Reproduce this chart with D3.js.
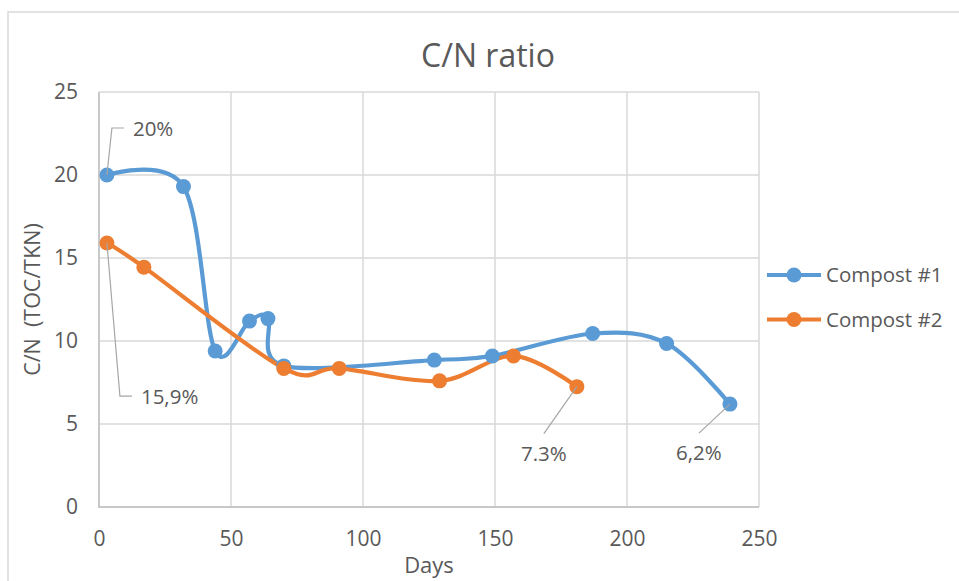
<!DOCTYPE html>
<html>
<head>
<meta charset="utf-8">
<script src="https://cdn.jsdelivr.net/npm/d3@7"></script>
<style>
  body { margin: 0; background: #fff; }
  svg { display: block; font-family: "Open Sans", "Noto Sans", sans-serif; }
  text { fill: #595959; }
</style>
</head>
<body>
<svg width="959" height="581"></svg>
<script>
// data
var days1 = [3, 32, 44, 57, 64, 70, 127, 149, 187, 215, 239];
var cn1   = [20, 19.3, 9.4, 11.2, 11.35, 8.5, 8.85, 9.1, 10.45, 9.85, 6.2];
var days2 = [3, 17, 70, 91, 129, 157, 181];
var cn2   = [15.9, 14.45, 8.35, 8.35, 7.6, 9.1, 7.25];
var seriesNames = ["Compost #1", "Compost #2"];
var xTicks = [0, 50, 100, 150, 200, 250];
var yTicks = [0, 5, 10, 15, 20, 25];
// data labels: series index, point index, text
var labelSeries = [0, 1, 1, 0];
var labelPoint  = [0, 0, 6, 10];
var labelText   = ["20%", "15,9%", "7.3%", "6,2%"];

var colors = ["#5b9bd5", "#ed7d31"];

var svg = d3.select("svg");
var margin = {top: 92, left: 99};
var dims = {width: 660, height: 415};

// outer chart border
svg.append("path")
  .attr("d", "M8,581V12H959")
  .attr("fill", "none")
  .attr("stroke", "#d9d9d9")
  .attr("stroke-width", 1.5);

var g = svg.append("g").attr("transform", "translate(" + margin.left + "," + margin.top + ")");

var x = d3.scaleLinear().domain([0, 250]).range([0, dims.width]);
var y = d3.scaleLinear().domain([0, 25]).range([dims.height, 0]);

// grid
g.append("g").selectAll("line").data(yTicks).enter().append("line")
  .attr("x1", 0).attr("x2", dims.width)
  .attr("y1", function(d) { return y(d); }).attr("y2", function(d) { return y(d); })
  .attr("stroke", "#d9d9d9").attr("stroke-width", 1.5);
g.append("g").selectAll("line").data(xTicks).enter().append("line")
  .attr("y1", 0).attr("y2", dims.height)
  .attr("x1", function(d) { return x(d); }).attr("x2", function(d) { return x(d); })
  .attr("stroke", "#d9d9d9").attr("stroke-width", 1.5);
// axis lines
g.append("path")
  .attr("d", "M0,0V" + dims.height + "H" + dims.width)
  .attr("fill", "none").attr("stroke", "#c8c8c8").attr("stroke-width", 2);

// axes (labels only)
var xAxis = g.append("g")
  .attr("transform", "translate(0," + dims.height + ")")
  .call(d3.axisBottom(x).tickValues(xTicks).tickSize(0).tickPadding(24));
var yAxis = g.append("g")
  .call(d3.axisLeft(y).tickValues(yTicks).tickSize(0).tickPadding(21));
[xAxis, yAxis].forEach(function(a) {
  a.select(".domain").remove();
  a.selectAll("text").attr("font-size", 21).attr("fill", "#595959")
    .style("font-family", "'Open Sans', sans-serif");
});

// titles
svg.append("text")
  .attr("x", 488).attr("y", 67)
  .attr("text-anchor", "middle")
  .attr("font-size", 32)
  .text("C/N ratio");
svg.append("text")
  .attr("x", margin.left + dims.width / 2).attr("y", 573)
  .attr("text-anchor", "middle")
  .attr("font-size", 22)
  .text("Days");
svg.append("text")
  .attr("transform", "translate(40," + (margin.top + dims.height / 2) + ") rotate(-90)")
  .attr("text-anchor", "middle")
  .attr("font-size", 21.5)
  .attr("xml:space", "preserve")
  .style("white-space", "pre")
  .text("C/N  (TOC/TKN)");

// series
var series = [
  days1.map(function(d, i) { return [d, cn1[i]]; }),
  days2.map(function(d, i) { return [d, cn2[i]]; })
];

var line = d3.line()
  .x(function(d) { return x(d[0]); })
  .y(function(d) { return y(d[1]); })
  .curve(d3.curveCardinal.tension(0));

series.forEach(function(s, k) {
  g.append("path")
    .datum(s)
    .attr("fill", "none")
    .attr("stroke", colors[k])
    .attr("stroke-width", 4.2)
    .attr("stroke-linejoin", "round")
    .attr("d", line);
});
series.forEach(function(s, k) {
  g.append("g").selectAll("circle").data(s).enter().append("circle")
    .attr("cx", function(d) { return x(d[0]); })
    .attr("cy", function(d) { return y(d[1]); })
    .attr("r", 7.5)
    .attr("fill", colors[k]);
});

// data labels with leader lines (pixel offsets from the point)
var leader = [
  {path: [[5, -47], [17, -47]], tx: 26, ty: -46, anchor: "start"},
  {path: [[13, 153], [25, 153]], tx: 34, ty: 154, anchor: "start"},
  {path: [[-33, 47]], tx: -33, ty: 67, anchor: "middle"},
  {path: [[-31, 29]], tx: -31, ty: 49, anchor: "middle"}
];
labelText.forEach(function(t, i) {
  var p = series[labelSeries[i]][labelPoint[i]];
  var px = x(p[0]), py = y(p[1]);
  var L = leader[i];
  var pts = [[px, py]].concat(L.path.map(function(o) { return [px + o[0], py + o[1]]; }));
  g.append("path")
    .attr("d", d3.line()(pts))
    .attr("fill", "none")
    .attr("stroke", "#a6a6a6")
    .attr("stroke-width", 1.2);
  g.append("text")
    .attr("x", px + L.tx).attr("y", py + L.ty)
    .attr("dy", "0.35em")
    .attr("text-anchor", L.anchor)
    .attr("font-size", 20.5)
    .text(t);
});

// legend
var legend = svg.append("g").attr("transform", "translate(767,275)");
seriesNames.forEach(function(name, k) {
  var row = legend.append("g").attr("transform", "translate(0," + (k * 44.5) + ")");
  row.append("line").attr("x1", 0).attr("x2", 54).attr("y1", 0).attr("y2", 0)
    .attr("stroke", colors[k]).attr("stroke-width", 4.2);
  row.append("circle").attr("cx", 27).attr("cy", 0).attr("r", 7.5).attr("fill", colors[k]);
  row.append("text").attr("x", 59).attr("y", 0).attr("dy", "0.35em")
    .attr("font-size", 20.5).text(name);
});
</script>
</body>
</html>
